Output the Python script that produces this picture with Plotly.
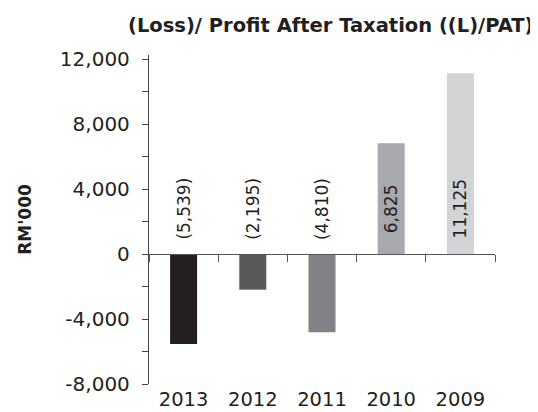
import plotly.graph_objects as go

years = ["2013", "2012", "2011", "2010", "2009"]
values = [-5539, -2195, -4810, 6825, 11125]
labels = ["(5,539)", "(2,195)", "(4,810)", "6,825", "11,125"]
colors = ["#231F20", "#58595B", "#808285", "#A7A9AC", "#D1D3D4"]
y_ticks = [-8000, -4000, 0, 4000, 8000, 12000]
y_ticklabels = ["-8,000", "-4,000", "0", "4,000", "8,000", "12,000"]
y_range = [-8000, 12250]

FONT = "DejaVu Sans, sans-serif"
TXT = "#231F20"

zero_pos = (0 - y_range[0]) / (y_range[1] - y_range[0])

fig = go.Figure()
fig.add_trace(go.Bar(x=years, y=values, marker=dict(color=colors, line=dict(width=0)),
                     width=0.39, hoverinfo="skip", showlegend=False))
# invisible trace for the zero-crossing axis
fig.add_trace(go.Scatter(x=years, y=[0] * len(years), xaxis="x2", mode="markers",
                         marker=dict(opacity=0), hoverinfo="skip", showlegend=False))

for i, lab in enumerate(labels):
    fig.add_annotation(x=i, y=0, xref="x", yref="y", text=lab, textangle=-90,
                       showarrow=False, xanchor="center", yanchor="middle", yshift=45,
                       font=dict(family=FONT, size=17, color=TXT))

# the page body has an 8px default margin, so the figure is 8px smaller
fig.update_layout(
    width=530, height=404,
    margin=dict(l=141, r=43, t=47, b=28, autoexpand=False),
    paper_bgcolor="white", plot_bgcolor="white",
    showlegend=False,
    title=dict(text="<b>(Loss)/ Profit After Taxation ((L)/PAT)</b>",
               x=0.609, xanchor="center", y=0.958, yanchor="middle",
               font=dict(family=FONT, size=19.5, color=TXT)),
    bargap=0.61,
    xaxis=dict(type="category", categoryorder="array", categoryarray=years,
               range=[-0.5, 4.5], showline=False, ticks="", showgrid=False,
               zeroline=False, ticklabelstandoff=1, automargin=False,
               tickfont=dict(family=FONT, size=19.5, color=TXT)),
    xaxis2=dict(type="category", categoryorder="array", categoryarray=years,
                range=[-0.5, 4.5], overlaying="x", anchor="free", position=zero_pos,
                showline=True, linecolor="#555", linewidth=1.3, automargin=False,
                ticks="outside", tickson="boundaries", ticklen=7, tickcolor="#555",
                tickwidth=1.3, showticklabels=False, showgrid=False, zeroline=False),
    yaxis=dict(range=y_range, tickvals=y_ticks, ticktext=y_ticklabels,
               showline=True, linecolor="#444", linewidth=1.3, automargin=False,
               ticks="outside", ticklen=6, tickcolor="#444", tickwidth=1.3,
               ticklabelstandoff=8,
               minor=dict(dtick=2000, tick0=0, ticks="outside", ticklen=6,
                          tickcolor="#444", tickwidth=1.3, showgrid=False),
               showgrid=False, zeroline=False,
               tickfont=dict(family=FONT, size=20, color=TXT),
               title=dict(text="<b>RM'000</b>", standoff=23,
                          font=dict(family=FONT, size=17, color=TXT))),
)

fig.write_html("out.html")
